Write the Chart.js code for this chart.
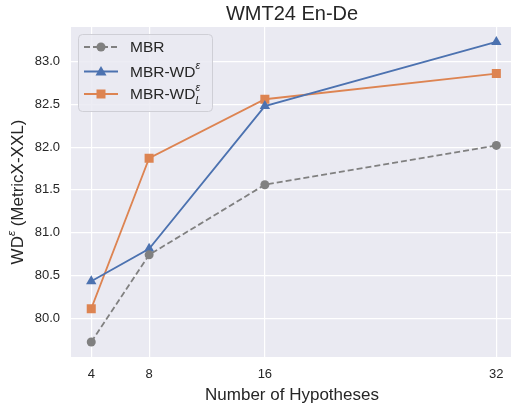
<!DOCTYPE html>
<html><head><meta charset="utf-8">
<script src="https://cdn.jsdelivr.net/npm/chart.js@4"></script>
<style>html,body{margin:0;padding:0;background:#fff;overflow:hidden;}canvas{display:block;}</style>
</head><body>
<canvas id="c" width="523" height="407"></canvas>
<script>
const hypotheses = [4, 8, 16, 32];
const mbr = [79.72, 80.74, 81.56, 82.02];
const mbrWd = [80.43, 80.81, 82.48, 83.23];
const mbrWdL = [80.11, 81.87, 82.56, 82.86];
const xTicks = [4, 8, 16, 32];
const yTicks = [80.0, 80.5, 81.0, 81.5, 82.0, 82.5, 83.0];
const seriesNames = ['MBR', 'MBR-WD', 'MBR-WD'];
const titleText = 'WMT24 En-De';
const xTitle = 'Number of Hypotheses';

const FONT = '"Liberation Sans", Arial, sans-serif';
const toPts = arr => arr.map((v, i) => ({x: hypotheses[i], y: v}));

const bgPlugin = {
  id: 'bg',
  beforeDraw(chart) {
    const {ctx, chartArea: a} = chart;
    ctx.save();
    ctx.fillStyle = '#EAEAF2';
    ctx.fillRect(a.left, a.top, a.right - a.left, a.bottom - a.top);
    ctx.restore();
  }
};

function drawRich(ctx, x, y, parts) {
  let cx = x;
  for (const p of parts) {
    ctx.font = (p.italic ? 'italic ' : '') + p.size + 'px ' + FONT;
    ctx.fillText(p.t, cx, y + (p.dy || 0));
    cx += ctx.measureText(p.t).width;
  }
  return cx;
}
function richWidth(ctx, parts) {
  let w = 0;
  for (const p of parts) {
    ctx.font = (p.italic ? 'italic ' : '') + p.size + 'px ' + FONT;
    w += ctx.measureText(p.t).width;
  }
  return w;
}

const decoPlugin = {
  id: 'deco',
  afterDraw(chart) {
    const {ctx, chartArea: a} = chart;
    ctx.save();
    ctx.fillStyle = '#262626';
    ctx.textBaseline = 'middle';
    // title
    ctx.font = '20px ' + FONT;
    ctx.textAlign = 'center';
    ctx.fillText(titleText, 292, 14);
    // x title
    ctx.font = '17px ' + FONT;
    ctx.fillText(xTitle, 292, 395);
    // y title
    ctx.save();
    ctx.translate(18, (a.top + a.bottom) / 2);
    ctx.rotate(-Math.PI / 2);
    ctx.textAlign = 'left';
    const yParts = [{t: 'WD', size: 17}, {t: 'ε', size: 11.5, dy: -6.5, italic: true}, {t: ' (MetricX-XXL)', size: 17}];
    const w = richWidth(ctx, yParts);
    drawRich(ctx, -w / 2, 0, yParts);
    ctx.restore();

    // legend
    const lx = 78, ly = 34, lw = 134, lh = 77;
    ctx.beginPath();
    ctx.roundRect(lx + 0.5, ly + 0.5, lw, lh, 4);
    ctx.fillStyle = 'rgba(234,234,242,0.85)';
    ctx.fill();
    ctx.strokeStyle = '#cfcfd6';
    ctx.lineWidth = 1;
    ctx.stroke();
    const rows = [47, 71.5, 94];
    const dsList = chart.data.datasets;
    const labelParts = [
      [{t: seriesNames[0], size: 15.5}],
      [{t: seriesNames[1], size: 15.5}, {t: 'ε', size: 10.5, dy: -6.5, italic: true}],
      [{t: seriesNames[2], size: 15.5}, {t: 'ε', size: 10.5, dy: -6.5, italic: true}]
    ];
    rows.forEach((ry, i) => {
      const ds = dsList[i];
      ctx.strokeStyle = ds.borderColor;
      ctx.lineWidth = ds.borderWidth;
      ctx.setLineDash(ds.borderDash || []);
      ctx.beginPath();
      ctx.moveTo(84, ry);
      ctx.lineTo(118, ry);
      ctx.stroke();
      ctx.setLineDash([]);
      ctx.fillStyle = ds.pointBackgroundColor;
      const mx = 101;
      if (ds.pointStyle === 'circle') {
        ctx.beginPath(); ctx.arc(mx, ry, 4.5, 0, Math.PI * 2); ctx.fill();
      } else if (ds.pointStyle === 'triangle') {
        ctx.beginPath(); ctx.moveTo(mx, ry - 5.5); ctx.lineTo(mx + 5.5, ry + 4); ctx.lineTo(mx - 5.5, ry + 4); ctx.closePath(); ctx.fill();
      } else {
        ctx.fillRect(mx - 4.5, ry - 4.5, 9, 9);
      }
      ctx.fillStyle = '#262626';
      ctx.textAlign = 'left';
      const end = drawRich(ctx, 130, ry + 1, labelParts[i]);
      if (i === 2) {
        ctx.font = 'italic 10.5px ' + FONT;
        const epsW = ctx.measureText('ε').width;
        ctx.fillText('L', end - epsW, ry + 7);
      }
    });
    ctx.restore();
  }
};

new Chart(document.getElementById('c'), {
  type: 'line',
  data: {
    datasets: [
      {label: seriesNames[0], data: toPts(mbr), borderColor: '#808080', backgroundColor: '#808080',
       pointBackgroundColor: '#808080', pointBorderWidth: 0, pointStyle: 'circle', pointRadius: 4.5,
       borderWidth: 1.8, borderDash: [6, 3], tension: 0},
      {label: seriesNames[1], data: toPts(mbrWd), borderColor: '#4C72B0', backgroundColor: '#4C72B0',
       pointBackgroundColor: '#4C72B0', pointBorderWidth: 0, pointStyle: 'triangle', pointRadius: 6,
       borderWidth: 1.8, tension: 0},
      {label: seriesNames[2], data: toPts(mbrWdL), borderColor: '#DD8452', backgroundColor: '#DD8452',
       pointBackgroundColor: '#DD8452', pointBorderWidth: 0, pointStyle: 'rect', pointRadius: 6.4,
       borderWidth: 1.8, tension: 0}
    ]
  },
  options: {
    responsive: false,
    animation: false,
    layout: {padding: {left: 0, right: 0, top: 27, bottom: 0}},
    plugins: {legend: {display: false}, title: {display: false}, tooltip: {enabled: false}},
    scales: {
      x: {
        type: 'linear', min: 2.6, max: 33.4,
        afterBuildTicks: s => { s.ticks = xTicks.map(v => ({value: v})); },
        afterFit: s => { s.height = 50; },
        grid: {color: '#ffffff', lineWidth: 1.2, drawTicks: false},
        border: {display: false},
        ticks: {padding: 10, color: '#262626', font: {family: FONT, size: 13}, maxRotation: 0, callback: v => String(v)}
      },
      y: {
        type: 'linear', min: 79.545, max: 83.405,
        afterBuildTicks: s => { s.ticks = yTicks.map(v => ({value: v})); },
        afterFit: s => { s.width = 71; },
        grid: {color: '#ffffff', lineWidth: 1.2, drawTicks: false},
        border: {display: false},
        ticks: {padding: 11, color: '#262626', font: {family: FONT, size: 13}, callback: v => Number(v).toFixed(1)}
      }
    }
  },
  plugins: [bgPlugin, decoPlugin]
});
</script>
</body></html>
